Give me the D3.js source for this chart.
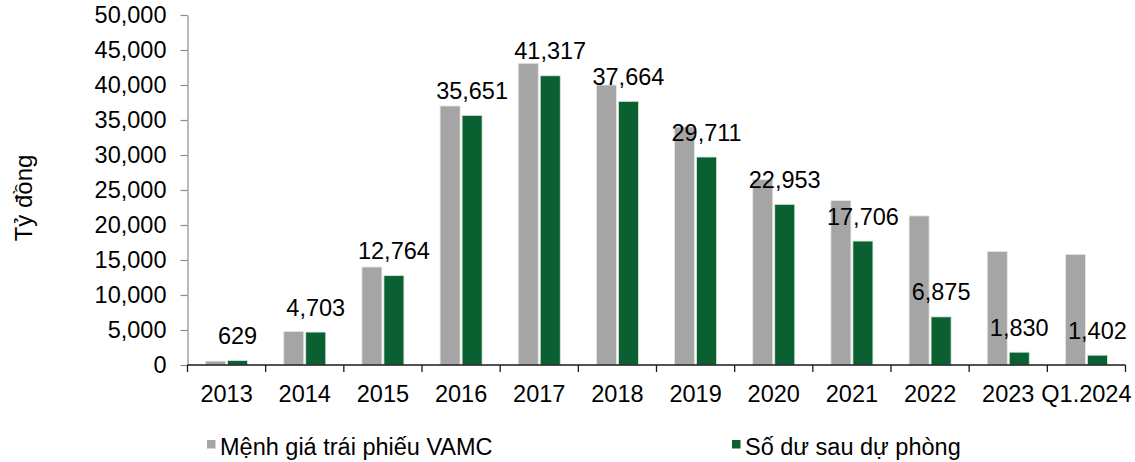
<!DOCTYPE html>
<html>
<head>
<meta charset="utf-8">
<script src="https://cdn.jsdelivr.net/npm/d3@7"></script>
<style>
  html, body { margin: 0; padding: 0; background: #fff; }
  svg { display: block; font-family: "Liberation Sans", Arial, sans-serif; }
</style>
</head>
<body>
<svg id="chart" width="1135" height="462"></svg>
<script>
const categories = ["2013","2014","2015","2016","2017","2018","2019","2020","2021","2022","2023","Q1.2024"];
const faceValue = [550, 4800, 14000, 37000, 43100, 40000, 34000, 26500, 23500, 21300, 16200, 15800];
const netValue = [629, 4703, 12764, 35651, 41317, 37664, 29711, 22953, 17706, 6875, 1830, 1402];
const yTicks = [0, 5000, 10000, 15000, 20000, 25000, 30000, 35000, 40000, 45000, 50000];
const seriesNames = ["Mệnh giá trái phiếu VAMC", "Số dư sau dự phòng"];
const yTitle = "Tỷ đồng";

(function () {
const colors = ["#a5a5a5", "#0a6031"];
const fontSize = 23.5;

const svg = d3.select("#chart");
const pLeft = 187.5, pRight = 1125.5, pTop = 15, pBottom = 365;

const x = d3.scaleBand().domain(categories).range([pLeft, pRight]).padding(0);
const y = d3.scaleLinear().domain([0, 50000]).range([pBottom, pTop]);

// Y axis
const yAxis = svg.append("g")
  .attr("transform", `translate(${pLeft},0)`)
  .call(d3.axisLeft(y).tickValues(yTicks).tickFormat(d3.format(",")).tickSize(7).tickPadding(14).tickSizeOuter(0));
yAxis.select(".domain").attr("stroke", "#8c8c8c").attr("stroke-width", 1.2);
yAxis.selectAll(".tick line").attr("stroke", "#8c8c8c").attr("stroke-width", 1.2);
yAxis.selectAll(".tick text").attr("font-size", fontSize).attr("fill", "#000")
  .attr("font-family", "'Liberation Sans', Arial, sans-serif");

// Bars
const bw = 20, gap = 1;
const groups = svg.append("g").selectAll("g").data(categories).join("g");
groups.append("rect")
  .attr("x", (d) => x(d) + x.bandwidth() / 2 - gap - bw)
  .attr("width", bw)
  .attr("y", (d, i) => y(faceValue[i]))
  .attr("height", (d, i) => y(0) - y(faceValue[i]))
  .attr("fill", colors[0])
  .attr("stroke", "#e6e6e6").attr("stroke-width", 0.8);
groups.append("rect")
  .attr("x", (d) => x(d) + x.bandwidth() / 2 + gap)
  .attr("width", bw)
  .attr("y", (d, i) => y(netValue[i]))
  .attr("height", (d, i) => y(0) - y(netValue[i]))
  .attr("fill", colors[1])
  .attr("stroke", "#d8e6dc").attr("stroke-width", 0.8);

// X axis line and ticks
svg.append("line").attr("x1", pLeft).attr("x2", pRight).attr("y1", pBottom).attr("y2", pBottom)
  .attr("stroke", "#1a1a1a").attr("stroke-width", 1.3);
const tickPos = categories.map(c => x(c)).concat([pRight]);
svg.append("g").selectAll("line").data(tickPos).join("line")
  .attr("x1", d => d).attr("x2", d => d).attr("y1", pBottom).attr("y2", pBottom + 7)
  .attr("stroke", "#1a1a1a").attr("stroke-width", 1.3);
svg.append("g").selectAll("text").data(categories).join("text")
  .attr("x", d => x(d) + x.bandwidth() / 2)
  .attr("y", 401.5)
  .attr("text-anchor", "middle")
  .attr("font-size", fontSize)
  .attr("fill", "#000")
  .text(d => d);

// Data labels
svg.append("g").selectAll("text").data(categories).join("text")
  .attr("x", d => x(d) + x.bandwidth() / 2 + gap + bw / 2)
  .attr("y", (d, i) => y(netValue[i]) - 16.5)
  .attr("text-anchor", "middle")
  .attr("font-size", fontSize)
  .attr("fill", "#000")
  .text((d, i) => d3.format(",")(netValue[i]));

// Y title
svg.append("text")
  .attr("transform", "translate(31.5,198) rotate(-90)")
  .attr("text-anchor", "middle")
  .attr("font-size", 24)
  .attr("fill", "#000")
  .text(yTitle);

// Legend
const legendX = [207, 732];
const leg = svg.append("g").selectAll("g").data(seriesNames).join("g")
  .attr("transform", (d, i) => `translate(${legendX[i]},0)`);
leg.append("rect").attr("x", 0).attr("y", 440).attr("width", 8.5).attr("height", 8.5)
  .attr("fill", (d, i) => colors[i]);
leg.append("text").attr("x", 13).attr("y", 455).attr("font-size", fontSize).attr("fill", "#000")
  .text(d => d);
})();
</script>
</body>
</html>
